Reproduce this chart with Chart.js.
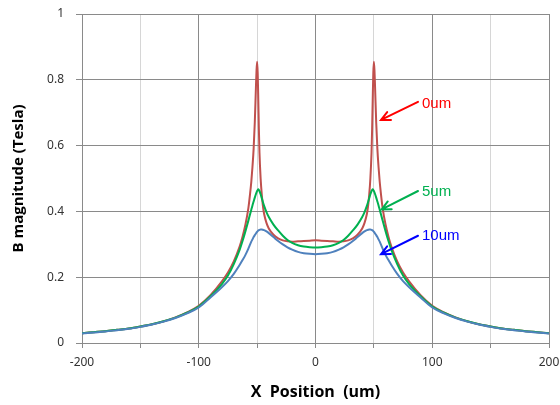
<!DOCTYPE html>
<html>
<head>
<meta charset="utf-8">
<script src="https://cdn.jsdelivr.net/npm/chart.js@4/dist/chart.umd.min.js"></script>
<style>
  html, body { margin: 0; padding: 0; background: #fff; }
  canvas { display: block; }
</style>
</head>
<body>
<canvas id="bChart" width="560" height="405"></canvas>
<script>
// x positions (um)
const xPos = [-200,-190,-180,-170,-160,-150,-140,-130,-120,-110,
  -100,-90,-80,-75,-70,-65,-62.5,-60,-57.5,-56,
  -55,-54,-53,-52,-51,-50.5,-50,-49.5,-49,-48.5,
  -48,-47,-46,-45,-44,-42,-40,-36,-32,-28,
  -24,-20,-15,-10,-5,
  0,
  5,10,15,20,24,
  28,32,36,40,42,44,45,46,47,48,
  48.5,49,49.5,50,50.5,51,52,53,54,55,
  56,57.5,60,62.5,65,70,75,80,90,100,
  110,120,130,140,150,160,170,180,190,200];

// B magnitude (Tesla)
const red0um = [0.030,0.033,0.036,0.040,0.044,0.050,0.057,0.066,0.078,0.093,
  0.113,0.145,0.188,0.214,0.248,0.293,0.323,0.360,0.410,0.455,
  0.490,0.535,0.590,0.670,0.780,0.830,0.855,0.820,0.740,0.650,
  0.580,0.500,0.450,0.415,0.392,0.365,0.348,0.329,0.318,0.312,
  0.309,0.308,0.309,0.310,0.311,
  0.312,
  0.311,0.310,0.309,0.308,0.309,
  0.312,0.318,0.329,0.348,0.365,0.392,0.415,0.450,0.500,0.580,
  0.650,0.740,0.820,0.855,0.830,0.780,0.670,0.590,0.535,0.490,
  0.455,0.410,0.360,0.323,0.293,0.248,0.214,0.188,0.145,0.113,
  0.093,0.078,0.066,0.057,0.050,0.044,0.040,0.036,0.033,0.030];

const green5um = [0.030,0.033,0.036,0.040,0.044,0.050,0.057,0.066,0.077,0.092,
  0.111,0.142,0.180,0.205,0.240,0.283,0.310,0.340,0.372,0.392,
  0.405,0.418,0.430,0.442,0.453,0.458,0.462,0.465,0.467,0.465,
  0.462,0.452,0.440,0.428,0.417,0.398,0.383,0.360,0.342,0.326,
  0.313,0.304,0.297,0.293,0.291,
  0.290,
  0.291,0.293,0.297,0.304,0.313,
  0.326,0.342,0.360,0.383,0.398,0.417,0.428,0.440,0.452,0.462,
  0.465,0.467,0.465,0.462,0.458,0.453,0.442,0.430,0.418,0.405,
  0.392,0.372,0.340,0.310,0.283,0.240,0.205,0.180,0.142,0.111,
  0.092,0.077,0.066,0.057,0.050,0.044,0.040,0.036,0.033,0.030];

const blue10um = [0.029,0.032,0.035,0.039,0.043,0.049,0.056,0.065,0.076,0.090,
  0.108,0.138,0.170,0.188,0.210,0.237,0.252,0.268,0.287,0.300,
  0.308,0.315,0.322,0.328,0.333,0.336,0.338,0.340,0.342,0.343,
  0.344,0.345,0.345,0.344,0.343,0.339,0.334,0.322,0.310,0.300,
  0.291,0.284,0.277,0.273,0.271,
  0.270,
  0.271,0.273,0.277,0.284,0.291,
  0.300,0.310,0.322,0.334,0.339,0.343,0.344,0.345,0.345,0.344,
  0.343,0.342,0.340,0.338,0.336,0.333,0.328,0.322,0.315,0.308,
  0.300,0.287,0.268,0.252,0.237,0.210,0.188,0.170,0.138,0.108,
  0.090,0.076,0.065,0.056,0.049,0.043,0.039,0.035,0.032,0.029];

const xTicks = [-200,-100,0,100,200];
const yTicks = [0,0.2,0.4,0.6,0.8,1];

// callout labels: text, colour, arrow from/to and label anchor in data units
const callouts = [
  { text:'0um',  color:'#ff0000', from:[87.8,0.733], to:[56.1,0.678], at:[91.2,0.714] },
  { text:'5um',  color:'#00b050', from:[87.8,0.462], to:[56.7,0.406], at:[91.2,0.447] },
  { text:'10um', color:'#0000ff', from:[87.8,0.326], to:[56.1,0.270], at:[91.2,0.313] }
];

function pts(ys){ return xPos.map((x,i) => ({x:x, y:ys[i]})); }

const majorGrid = '#8a8a8a';
const minorGrid = '#d6d6d6';

const calloutPlugin = {
  id:'callouts',
  afterDatasetsDraw(chart){
    const ctx = chart.ctx, xs = chart.scales.x, ys = chart.scales.y;
    ctx.save();
    callouts.forEach(c => {
      const x1 = xs.getPixelForValue(c.from[0]), y1 = ys.getPixelForValue(c.from[1]);
      const x2 = xs.getPixelForValue(c.to[0]),   y2 = ys.getPixelForValue(c.to[1]);
      const a = Math.atan2(y2-y1, x2-x1), h = 10;
      ctx.strokeStyle = c.color;
      ctx.lineWidth = 2;
      ctx.lineCap = 'round';
      ctx.beginPath();
      ctx.moveTo(x1,y1); ctx.lineTo(x2,y2);
      ctx.moveTo(x2 - h*Math.cos(a-0.45), y2 - h*Math.sin(a-0.45));
      ctx.lineTo(x2,y2);
      ctx.lineTo(x2 - h*Math.cos(a+0.45), y2 - h*Math.sin(a+0.45));
      ctx.stroke();
      ctx.fillStyle = c.color;
      ctx.font = '15px "Liberation Sans", Arial, sans-serif';
      ctx.textAlign = 'left';
      ctx.textBaseline = 'alphabetic';
      ctx.fillText(c.text, xs.getPixelForValue(c.at[0]), ys.getPixelForValue(c.at[1]));
    });
    ctx.restore();
  }
};

new Chart(document.getElementById('bChart'), {
  type:'line',
  data:{
    datasets:[
      {label:'0um',  data:pts(red0um),   borderColor:'#c0504d', order:2},
      {label:'5um',  data:pts(green5um), borderColor:'#00b050', order:1},
      {label:'10um', data:pts(blue10um), borderColor:'#4f81bd', order:0}
    ]
  },
  options:{
    responsive:false,
    animation:false,
    events:[],
    layout:{padding:{top:14, right:11, left:0, bottom:0}},
    elements:{
      line:{borderWidth:2, cubicInterpolationMode:'monotone', fill:false},
      point:{radius:0}
    },
    plugins:{legend:{display:false}, tooltip:{enabled:false}},
    scales:{
      x:{
        type:'linear', min:-200, max:200,
        afterFit(s){ s.height = 62; s.paddingLeft = 0; s.paddingRight = 0; },
        border:{color:majorGrid},
        grid:{
          color: c => (c.tick && c.tick.value % 100 === 0) ? majorGrid : minorGrid,
          tickColor: majorGrid, tickLength:5
        },
        ticks:{
          stepSize:50, autoSkip:false, maxRotation:0, padding:7,
          color:'#333', font:{family:'"Noto Sans", "Open Sans", sans-serif', size:12},
          callback: v => xTicks.includes(v) ? String(v) : ''
        },
        title:{display:true, text:'X  Position  (um)', color:'#000',
          font:{family:'"Open Sans", "Noto Sans", sans-serif', size:16, weight:'bold'},
          padding:{top:0, bottom:3}}
      },
      y:{
        type:'linear', min:0, max:1,
        afterFit(s){ s.width = 82; s.paddingTop = 0; s.paddingBottom = 0; },
        border:{color:majorGrid},
        grid:{color:majorGrid, tickColor:majorGrid, tickLength:6},
        ticks:{
          stepSize:0.2, padding:12,
          color:'#333', font:{family:'"Noto Sans", "Open Sans", sans-serif', size:12},
          callback: v => { const r = Math.round(v*10)/10; return yTicks.includes(r) ? String(r) : ''; }
        },
        title:{display:true, text:'B magnitude (Tesla)', color:'#000',
          font:{family:'"Open Sans", "Noto Sans", sans-serif', size:15, weight:'bold'},
          padding:{top:10, bottom:0}}
      }
    }
  },
  plugins:[calloutPlugin]
});
</script>
</body>
</html>
